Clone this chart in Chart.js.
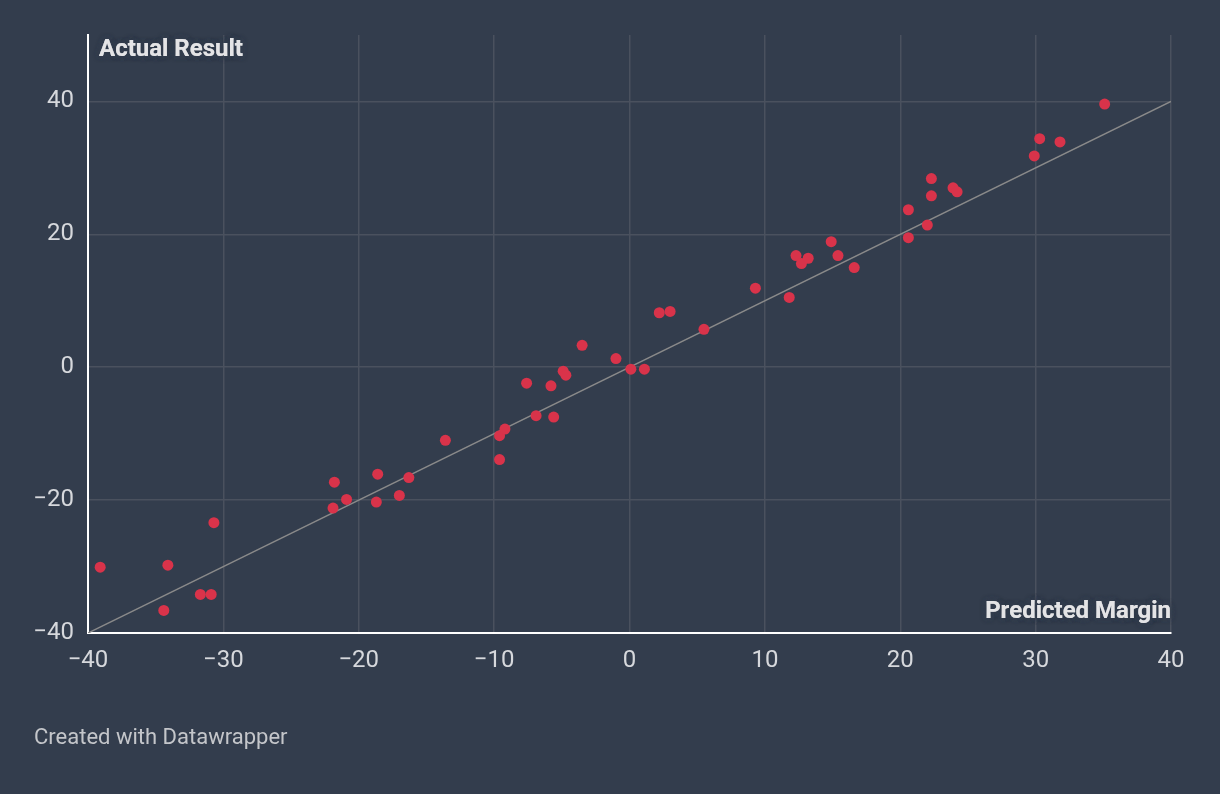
<!DOCTYPE html>
<html>
<head>
<meta charset="utf-8">
<script src="https://cdn.jsdelivr.net/npm/chart.js@4.4.1/dist/chart.umd.min.js"></script>
<style>
  html, body { margin: 0; padding: 0; background: #333d4d; }
  #wrap { position: relative; width: 1220px; height: 794px; }
  #footer {
    position: absolute; left: 34px; top: 724px;
    font-family: Roboto, sans-serif; font-size: 22px; color: #c4c6ca;
  }
</style>
</head>
<body>
<div id="wrap">
  <canvas id="chart" width="1220" height="794"></canvas>
  <div id="footer">Created with Datawrapper</div>
</div>
<script>
// predicted margin (x) vs actual result (y)
var predicted = [
  -39.1, -34.1, -34.4, -31.7, -30.9, -30.7,
  -21.8, -21.9, -20.9, -18.6, -18.7, -17.0, -16.3,
  -13.6, -9.6, -9.2, -9.6, -7.6, -6.9, -5.8, -5.6,
  -4.9, -4.7, -3.5, -1.0, 0.1, 1.1, 2.2, 3.0, 5.5,
  9.3, 11.8, 12.3, 12.7, 13.2, 14.9, 15.4, 16.6,
  20.6, 20.6, 22.0, 22.3, 22.3, 23.9, 24.2,
  29.9, 30.3, 31.8, 35.1
];
var actual = [
  -30.1, -29.8, -36.6, -34.2, -34.2, -23.4,
  -17.3, -21.2, -19.9, -16.1, -20.3, -19.3, -16.6,
  -11.0, -10.3, -9.3, -13.9, -2.4, -7.3, -2.8, -7.5,
  -0.6, -1.2, 3.3, 1.3, -0.3, -0.3, 8.2, 8.4, 5.7,
  11.9, 10.5, 16.8, 15.6, 16.4, 18.9, 16.8, 15.0,
  23.7, 19.5, 21.4, 28.4, 25.8, 27.0, 26.4,
  31.8, 34.4, 33.9, 39.6
];
var xTicks = [-40, -30, -20, -10, 0, 10, 20, 30, 40];
var yTicks = [-40, -20, 0, 20, 40];
var refLine = [-40, 40];

var bg = '#333d4d';
var tickColor = '#d6d8dc';
var gridColor = '#4a515e';

function fmt(v) {
    return v < 0 ? '\u2212' + Math.abs(v) : String(v);
}

var points = predicted.map(function (x, i) {
    return { x: x, y: actual[i] };
});

var axisTitles = {
    id: 'axisTitles',
    afterDraw: function (chart) {
        var ctx = chart.ctx;
        var area = chart.chartArea;
        ctx.save();
        ctx.font = 'bold 24px Roboto, sans-serif';
        ctx.fillStyle = '#e4e4e6';
        ctx.textBaseline = 'middle';
        ctx.shadowColor = bg;
        ctx.shadowBlur = 6;
        for (var k = 0; k < 3; k++) {
            ctx.textAlign = 'left';
            ctx.fillText('Actual Result', area.left + 11, area.top + 15);
            ctx.textAlign = 'right';
            ctx.fillText('Predicted Margin', area.right, area.bottom - 21);
        }
        ctx.restore();
    }
};

new Chart(document.getElementById('chart'), {
    type: 'scatter',
    data: {
        datasets: [
            {
                type: 'line',
                data: refLine.map(function (v) { return { x: v, y: v }; }),
                borderColor: '#8a8a8a',
                borderWidth: 1.5,
                pointRadius: 0,
                order: 2
            },
            {
                data: points,
                backgroundColor: '#d9334a',
                borderWidth: 0,
                pointRadius: 5.5,
                order: 1
            }
        ]
    },
    options: {
        responsive: false,
        animation: false,
        layout: { padding: { left: 0, right: 49, top: 35, bottom: 121 } },
        plugins: {
            legend: { display: false },
            tooltip: { enabled: false }
        },
        scales: {
            x: {
                type: 'linear',
                min: -40,
                max: 40,
                afterBuildTicks: function (scale) {
                    scale.ticks = xTicks.map(function (v) { return { value: v }; });
                },
                afterFit: function (scale) { scale.height = 40; },
                grid: { color: gridColor, lineWidth: 1.5, drawTicks: false },
                border: { color: '#ffffff', width: 2 },
                ticks: {
                    color: tickColor,
                    padding: 14,
                    maxRotation: 0,
                    font: { family: 'Roboto', size: 24 },
                    callback: fmt
                }
            },
            y: {
                type: 'linear',
                min: -40,
                max: 50,
                afterBuildTicks: function (scale) {
                    scale.ticks = yTicks.map(function (v) { return { value: v }; });
                },
                afterFit: function (scale) { scale.width = 88; },
                grid: { color: gridColor, lineWidth: 1.5, drawTicks: false },
                border: { color: '#ffffff', width: 2 },
                ticks: {
                    color: tickColor,
                    padding: 14,
                    font: { family: 'Roboto', size: 24 },
                    callback: fmt
                }
            }
        }
    },
    plugins: [axisTitles]
});
</script>
</body>
</html>
